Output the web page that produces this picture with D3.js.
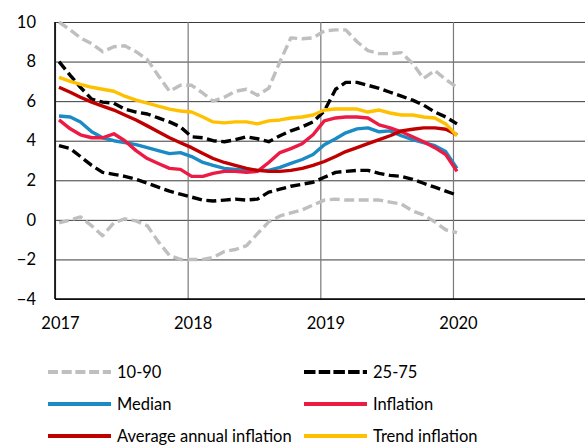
<!DOCTYPE html>
<html>
<head>
<meta charset="utf-8">
<title>Inflation distribution</title>
<script src="https://d3js.org/d3.v7.min.js"></script>
<style>
  body { margin: 0; background: #fff; }
  text { font-family: Lato, "Noto Sans", sans-serif; font-size: 16.5px; fill: #000; }
</style>
</head>
<body>
<div id="chart"></div>
<script>
// monthly observations, Jan 2017 - Jan 2020
const months = ["2017-01","2017-02","2017-03","2017-04","2017-05","2017-06","2017-07","2017-08","2017-09","2017-10","2017-11","2017-12",
                "2018-01","2018-02","2018-03","2018-04","2018-05","2018-06","2018-07","2018-08","2018-09","2018-10","2018-11","2018-12",
                "2019-01","2019-02","2019-03","2019-04","2019-05","2019-06","2019-07","2019-08","2019-09","2019-10","2019-11","2019-12",
                "2020-01"];
const p90 = [10.0, 9.6, 9.2, 8.9, 8.5, 8.75, 8.8, 8.5, 8.1, 7.3, 6.5, 6.8,
             6.8, 6.4, 6.0, 6.2, 6.5, 6.6, 6.3, 6.65, 8.0, 9.2, 9.15, 9.2,
             9.55, 9.6, 9.6, 9.0, 8.55, 8.4, 8.4, 8.45, 7.9, 7.15, 7.55, 7.1,
             6.7];
const p10 = [-0.15, 0.0, 0.15, -0.3, -0.8, -0.15, 0.05, -0.05, -0.3, -1.1, -1.8, -2.0,
             -2.0, -2.0, -1.9, -1.6, -1.5, -1.3, -0.7, -0.1, 0.2, 0.35, 0.5, 0.75,
             1.0, 1.05, 1.0, 1.0, 1.0, 1.0, 0.9, 0.8, 0.45, 0.25, -0.1, -0.5,
             -0.65];
const p75 = [8.0, 7.3, 6.7, 6.1, 5.95, 5.9, 5.6, 5.45, 5.35, 5.15, 4.95, 4.7,
             4.2, 4.15, 4.0, 3.95, 4.05, 4.2, 4.1, 3.95, 4.25, 4.5, 4.7, 4.95,
             5.5, 6.6, 6.95, 6.95, 6.8, 6.65, 6.45, 6.25, 6.05, 5.8, 5.45, 5.2,
             4.85];
const p25 = [3.75, 3.6, 3.2, 2.75, 2.4, 2.3, 2.2, 2.05, 1.85, 1.65, 1.45, 1.3,
             1.15, 1.0, 0.95, 1.0, 1.05, 1.0, 1.05, 1.4, 1.55, 1.7, 1.8, 1.9,
             2.15, 2.4, 2.45, 2.5, 2.5, 2.35, 2.25, 2.2, 2.05, 1.85, 1.65, 1.45,
             1.25];
const median = [5.25, 5.2, 4.95, 4.45, 4.15, 4.0, 3.9, 3.8, 3.65, 3.5, 3.35, 3.4,
                3.2, 2.9, 2.75, 2.6, 2.55, 2.5, 2.5, 2.5, 2.65, 2.85, 3.05, 3.3,
                3.8, 4.1, 4.4, 4.6, 4.65, 4.45, 4.5, 4.25, 4.05, 3.9, 3.75, 3.45,
                2.6];
const inflation = [5.05, 4.6, 4.3, 4.15, 4.15, 4.35, 4.0, 3.5, 3.1, 2.85, 2.6, 2.55,
                   2.2, 2.2, 2.35, 2.45, 2.45, 2.4, 2.45, 2.9, 3.4, 3.6, 3.85, 4.3,
                   5.0, 5.15, 5.2, 5.2, 5.15, 4.8, 4.65, 4.45, 4.2, 3.95, 3.65, 3.3,
                   2.45];
const avgAnnual = [6.7, 6.45, 6.2, 5.95, 5.75, 5.55, 5.3, 5.05, 4.75, 4.45, 4.15, 3.9,
                   3.65, 3.35, 3.1, 2.9, 2.75, 2.6, 2.5, 2.45, 2.45, 2.5, 2.6, 2.75,
                   2.95, 3.2, 3.45, 3.65, 3.85, 4.05, 4.25, 4.5, 4.58, 4.65, 4.65, 4.58,
                   4.3];
const trend = [7.2, 7.0, 6.85, 6.7, 6.6, 6.5, 6.25, 6.05, 5.9, 5.75, 5.6, 5.5,
               5.45, 5.2, 4.95, 4.9, 4.95, 4.95, 4.85, 5.0, 5.05, 5.15, 5.2, 5.3,
               5.55, 5.6, 5.6, 5.6, 5.45, 5.55, 5.4, 5.3, 5.3, 5.2, 5.15, 4.85,
               4.25];

const yTicks = [10, 8, 6, 4, 2, 0, -2, -4];
const xYears = [2017, 2018, 2019, 2020];

const W = 585, H = 445;
const plotLeft = 55, plotRight = 586, plotTop = 22, plotBottom = 299;

const svg = d3.select("#chart").append("svg")
    .attr("width", W)
    .attr("height", H);

const x = d3.scaleTime()
    .domain([new Date(2017, 0, 1), new Date(2021, 0, 1)])
    .range([plotLeft, plotRight]);
const y = d3.scaleLinear()
    .domain([-4, 10])
    .range([plotBottom, plotTop]);

const dates = months.map(m => {
  const [yr, mo] = m.split("-").map(Number);
  return new Date(yr, mo - 1, 12);
});

// horizontal grid + y labels
const yAxis = svg.append("g")
    .attr("transform", `translate(${plotLeft},0)`)
    .call(d3.axisLeft(y).tickValues(yTicks).tickSize(-(W - plotLeft)).tickPadding(19).tickFormat(d3.format("d")));
yAxis.select(".domain").remove();
yAxis.selectAll(".tick line").attr("stroke", "#3a3a3a").attr("stroke-width", 1);
yAxis.attr("font-size", null).attr("font-family", null);

// vertical grid + x labels
const xAxis = svg.append("g")
    .attr("transform", `translate(0,${plotBottom})`)
    .call(d3.axisBottom(x)
      .tickValues(xYears.map(yr => new Date(yr, 0, 1)))
      .tickSize(-(plotBottom - plotTop))
      .tickPadding(18)
      .tickFormat(d3.timeFormat("%Y")));
xAxis.select(".domain").remove();
xAxis.selectAll(".tick line").attr("stroke", "#7a7a7a").attr("stroke-width", 1.2);
xAxis.selectAll(".tick text").attr("dx", 5);
xAxis.attr("font-size", null).attr("font-family", null);

// left axis and bottom line
svg.append("line").attr("x1", plotLeft).attr("x2", plotLeft).attr("y1", plotTop).attr("y2", plotBottom)
    .attr("stroke", "#000").attr("stroke-width", 1.6);
svg.append("line").attr("x1", plotLeft).attr("x2", W).attr("y1", plotBottom).attr("y2", plotBottom)
    .attr("stroke", "#000").attr("stroke-width", 1.4);

const series = [
  { name: "10-90 upper", values: p90, color: "#bfbfbf", dash: "10,4.5" },
  { name: "10-90 lower", values: p10, color: "#bfbfbf", dash: "10,4.5" },
  { name: "25-75 upper", values: p75, color: "#000000", dash: "10,4.5" },
  { name: "25-75 lower", values: p25, color: "#000000", dash: "10,4.5" },
  { name: "Median", values: median, color: "#1a8bc4", dash: null },
  { name: "Inflation", values: inflation, color: "#ec1b45", dash: null },
  { name: "Average annual inflation", values: avgAnnual, color: "#c00000", dash: null },
  { name: "Trend inflation", values: trend, color: "#ffc000", dash: null }
];

const line = d3.line()
    .x((d, i) => x(dates[i]))
    .y(d => y(d));

svg.append("g").selectAll("path")
  .data(series)
  .join("path")
    .attr("d", d => line(d.values))
    .attr("fill", "none")
    .attr("stroke", d => d.color)
    .attr("stroke-width", 3.4)
    .attr("stroke-linejoin", "round")
    .attr("stroke-dasharray", d => d.dash);

// legend
const legendItems = [
  { label: "10-90", color: "#bfbfbf", dash: "10,3.7", col: 0, row: 0 },
  { label: "25-75", color: "#000000", dash: "11.5,3.2", col: 1, row: 0 },
  { label: "Median", color: "#1a8bc4", dash: null, col: 0, row: 1 },
  { label: "Inflation", color: "#ec1b45", dash: null, col: 1, row: 1 },
  { label: "Average annual inflation", color: "#c00000", dash: null, col: 0, row: 2 },
  { label: "Trend inflation", color: "#ffc000", dash: null, col: 1, row: 2 }
];
const colX = [48, 304];
const rowY = [372, 404, 436];

const lg = svg.append("g").selectAll("g")
  .data(legendItems)
  .join("g")
    .attr("transform", d => `translate(${colX[d.col]},${rowY[d.row]})`);
lg.append("line")
    .attr("x1", 0).attr("x2", 63)
    .attr("stroke", d => d.color)
    .attr("stroke-width", 4)
    .attr("stroke-dasharray", d => d.dash);
lg.append("text")
    .attr("x", 69)
    .attr("dy", "0.35em")
    .text(d => d.label);
</script>
</body>
</html>
